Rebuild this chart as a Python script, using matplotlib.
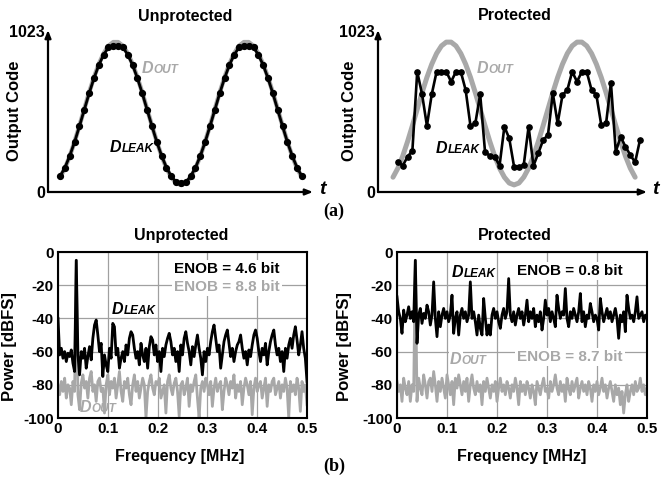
import numpy as np
import matplotlib
matplotlib.use('Agg')
import matplotlib.pyplot as plt
from matplotlib.text import Annotation

plt.rcParams['font.family'] = ['Liberation Sans', 'DejaVu Sans']
plt.rcParams['font.weight'] = 'bold'

# ---------------- data ----------------
sample_idx = list(range(51))
dout_wave = [94, 151, 228, 320, 421, 526, 631, 728, 812, 880, 928, 952, 952, 928, 880, 812, 728, 631, 526,
             421, 320, 228, 151, 94, 57, 45, 57, 94, 151, 228, 320, 421, 526, 631, 728, 812, 880, 928, 952,
             952, 928, 880, 812, 728, 631, 526, 421, 320, 228, 151, 94]
dleak_unprot = [100, 155, 230, 318, 418, 522, 626, 722, 806, 872, 918, 925, 925, 918, 872, 806, 722, 626, 522,
                418, 318, 230, 155, 100, 62, 55, 62, 100, 155, 230, 318, 418, 522, 626, 722, 806, 872, 918, 925,
                925, 918, 872, 806, 722, 626, 522, 418, 318, 230, 155, 100]
dleak_prot = [193, 167, 224, 262, 764, 621, 421, 621, 764, 764, 764, 701, 764, 764, 648, 419, 436, 621, 256,
              229, 224, 167, 415, 341, 161, 161, 172, 415, 167, 246, 330, 362, 627, 436, 616, 648, 764, 701,
              764, 764, 648, 616, 426, 436, 695, 256, 351, 288, 235, 189, 330]
prot_out_shift = -1  # DOUT curve of protected panel leads the leak samples by one sample

freq_max = 0.5
n_bins = 151

spec_leak_unprot = [-40, -62, -58, -64, -60, -66, -61, -63, -59, -67, -72, -5, -62, -74, -60, -64, -58, -70, -63, -57,
                    -65, -52, -44, -41, -50, -60, -55, -75, -62, -68, -72, -58, -64, -43, -45, -62, -58, -70, -64, -60,
                    -66, -56, -62, -52, -48, -50, -58, -64, -60, -68, -55, -62, -66, -58, -70, -57, -51, -53, -62, -56,
                    -66, -60, -72, -58, -63, -56, -52, -49, -54, -62, -58, -66, -60, -72, -56, -62, -52, -48, -55, -60,
                    -68, -57, -63, -56, -50, -58, -64, -74, -60, -66, -58, -62, -54, -48, -44, -52, -60, -56, -70, -62,
                    -54, -50, -47, -55, -63, -58, -66, -60, -56, -54, -50, -58, -64, -60, -68, -59, -63, -56, -50, -47,
                    -52, -60, -66, -58, -62, -55, -68, -60, -54, -50, -47, -56, -62, -58, -66, -60, -72, -58, -64, -56,
                    -52, -58, -50, -45, -53, -62, -56, -48, -58, -64, -78]
spec_out_unprot = [-80, -86, -78, -84, -76, -88, -80, -82, -92, -78, -84, -5, -86, -95, -79, -74, -82, -78, -88, -76,
                   -72, -84, -80, -90, -78, -76, -84, -82, -97, -80, -74, -86, -78, -82, -76, -88, -80, -72, -84, -90,
                   -78, -82, -76, -86, -92, -80, -74, -84, -78, -88, -82, -76, -80, -100, -84, -78, -74, -82, -86, -78,
                   -80, -76, -88, -84, -80, -97, -78, -74, -82, -86, -79, -76, -84, -99, -80, -78, -86, -82, -76, -93,
                   -80, -84, -78, -74, -88, -100, -82, -78, -84, -76, -80, -86, -78, -93, -82, -76, -84, -80, -78, -95,
                   -84, -76, -80, -86, -78, -82, -74, -88, -80, -84, -78, -92, -82, -76, -80, -86, -78, -98, -82, -76,
                   -84, -80, -78, -88, -82, -76, -93, -80, -84, -78, -76, -86, -82, -78, -88, -80, -84, -76, -82, -100,
                   -78, -84, -80, -86, -76, -82, -96, -78, -84, -80, -92]
spec_leak_prot = [-27, -36, -40, -49, -35, -42, -38, -33, -40, -36, -42, -5, -55, -38, -34, -43, -37, -40, -32, -36,
                  -44, -38, -18, -40, -51, -36, -45, -38, -34, -40, -36, -42, -38, -26, -49, -40, -36, -50, -38, -34,
                  -40, -36, -42, -38, -18, -40, -36, -42, -50, -38, -46, -50, -28, -40, -50, -44, -50, -38, -34, -40,
                  -36, -42, -46, -38, -34, -40, -36, -16, -38, -42, -36, -44, -38, -34, -40, -36, -44, -38, -29, -42,
                  -36, -40, -34, -45, -38, -42, -36, -47, -40, -29, -38, -34, -42, -36, -40, -45, -26, -34, -40, -36,
                  -38, -22, -40, -45, -36, -40, -34, -38, -42, -36, -25, -42, -36, -45, -38, -40, -31, -36, -42, -38,
                  -40, -47, -28, -36, -42, -38, -34, -40, -36, -42, -38, -34, -40, -52, -38, -42, -36, -48, -26, -34,
                  -40, -38, -42, -36, -27, -40, -38, -36, -42, -38, -40]
spec_out_prot = [-78, -84, -80, -90, -76, -82, -86, -78, -90, -80, -84, -5, -90, -76, -82, -86, -74, -80, -88, -78,
                 -76, -84, -72, -80, -90, -78, -84, -76, -82, -88, -74, -80, -86, -78, -92, -76, -82, -74, -80, -86,
                 -78, -84, -76, -90, -80, -74, -82, -86, -78, -84, -80, -92, -78, -84, -76, -82, -88, -80, -84, -78,
                 -90, -82, -76, -84, -80, -86, -78, -82, -88, -80, -84, -76, -82, -92, -78, -84, -80, -86, -78, -82,
                 -88, -80, -84, -92, -78, -82, -86, -80, -76, -84, -82, -88, -78, -84, -80, -74, -82, -86, -78, -84,
                 -80, -90, -76, -82, -86, -78, -84, -80, -76, -88, -82, -78, -84, -80, -86, -78, -82, -90, -80, -84,
                 -78, -86, -82, -76, -84, -80, -88, -82, -78, -84, -90, -80, -86, -82, -92, -84, -97, -86, -80, -90,
                 -84, -80, -86, -78, -84, -82, -76, -84, -80, -86, -82]

titles = ['Unprotected', 'Protected']
enob_leak = ['ENOB = 4.6 bit', 'ENOB = 0.8 bit']
enob_out = ['ENOB = 8.8 bit', 'ENOB = 8.7 bit']
freq_ticks = [0, 0.1, 0.2, 0.3, 0.4, 0.5]
freq_ticklabels = ['0', '0.1', '0.2', '0.3', '0.4', '0.5']
db_ticks = [0, -20, -40, -60, -80, -100]
code_ticks = [0, 1023]

# ---------------- style ----------------
W, H = 669, 479
GRAY = '#a8a8a8'
fig = plt.figure(figsize=(W / 100, H / 100), dpi=100)


def fx(px):
    return px / W


def fy(py):
    return 1 - py / H


def dlabel(x, y, sub, color, ms=11.5, ss=8.5, bbox=False):
    kw = {}
    if bbox:
        kw = dict(bbox=dict(facecolor='white', edgecolor='none', pad=1.0))
    t = fig.text(fx(x), fy(y), 'D', fontsize=ms, fontweight='bold', style='italic',
                 color=color, ha='left', va='baseline', zorder=5, **kw)
    a = Annotation(sub, xy=(1, 0), xycoords=t, xytext=(0.3, 0), textcoords='offset points',
                   fontsize=ss, fontweight='bold', style='italic', color=color,
                   ha='left', va='bottom', annotation_clip=False, zorder=6)
    fig.add_artist(a)
    return t


# ---------------- (a) time domain ----------------
ax1 = fig.add_axes([fx(48), fy(192), fx(313 - 48), (192 - 30) / H])
ax2 = fig.add_axes([fx(378), fy(192), fx(647 - 378), (192 - 30) / H])

n = np.array(sample_idx)
ax1.plot(n, dout_wave, color=GRAY, lw=3.2, solid_capstyle='round', zorder=2)
ax1.plot(n, dleak_unprot, color='black', lw=2.0, marker='o', ms=4.2, zorder=3)
ax1.set_xlim(-2.5, 52.3)

ax2.plot(n + prot_out_shift, dout_wave, color=GRAY, lw=3.6, solid_capstyle='round', zorder=2)
ax2.plot(n, dleak_prot, color='black', lw=1.9, marker='o', ms=3.8, zorder=3)
ax2.set_xlim(-4.1, 51.45)

for ax, tx in ((ax1, 322), (ax2, 655)):
    ax.set_ylim(0, 1029)
    for s in ax.spines.values():
        s.set_visible(False)
    ax.set_xticks([])
    ax.set_yticks(code_ticks)
    ax.set_yticklabels([str(v) for v in code_ticks], fontsize=11.5, fontweight='bold')
    ax.tick_params(axis='y', length=0, pad=2)
    ax.patch.set_alpha(0)
    arrow = dict(arrowstyle='-|>,head_length=0.45,head_width=0.18', lw=1.6, color='black',
                 shrinkA=0, shrinkB=0)
    ax.annotate('', xy=(1, 0), xytext=(0, 0), xycoords='axes fraction', arrowprops=arrow)
    ax.annotate('', xy=(0, 1), xytext=(0, 0), xycoords='axes fraction', arrowprops=arrow)
    ax.set_ylabel('Output Code', fontsize=12, fontweight='bold')
    fig.text(fx(tx), fy(190), 't', fontsize=14, fontweight='bold', style='italic',
             ha='center', va='center')

ax1.yaxis.set_label_coords(-0.098, 0.5)
ax2.yaxis.set_label_coords(-0.078, 0.5)

fig.text(fx(185), fy(16), titles[0], fontsize=11.5, fontweight='bold', ha='center', va='center')
fig.text(fx(515), fy(16), titles[1], fontsize=11.5, fontweight='bold', ha='center', va='center')

dlabel(142, 73, 'OUT', GRAY)
dlabel(110, 152, 'LEAK', 'black')
dlabel(477, 73, 'OUT', GRAY)
dlabel(436, 153, 'LEAK', 'black')

fig.text(fx(334), fy(211), '(a)', fontsize=13, fontweight='bold', family='Liberation Serif',
         ha='center', va='center')

# ---------------- (b) spectra ----------------
ax3 = fig.add_axes([fx(58), fy(418), fx(249), 166 / H])
ax4 = fig.add_axes([fx(397), fy(418), fx(250), 166 / H])
freq = np.linspace(0, freq_max, n_bins)

ax3.plot(freq, spec_out_unprot, color=GRAY, lw=2.0, zorder=2)
ax3.plot(freq, spec_leak_unprot, color='black', lw=2.0, zorder=3)
ax4.plot(freq, spec_out_prot, color=GRAY, lw=2.0, zorder=2)
ax4.plot(freq, spec_leak_prot, color='black', lw=2.0, zorder=3)

for ax in (ax3, ax4):
    ax.set_xlim(0, 0.5)
    ax.set_ylim(-100, 0)
    ax.set_xticks(freq_ticks)
    ax.set_xticklabels(freq_ticklabels, fontsize=11, fontweight='bold')
    ax.set_yticks(db_ticks)
    ax.set_yticklabels([str(v) for v in db_ticks], fontsize=11, fontweight='bold')
    ax.tick_params(length=0, pad=3)
    ax.grid(True, color='#a0a0a0', lw=0.9)
    ax.set_axisbelow(True)
    for s in ax.spines.values():
        s.set_linewidth(1.5)
    ax.set_xlabel('Frequency [MHz]', fontsize=11.5, fontweight='bold')
    ax.set_ylabel('Power [dBFS]', fontsize=12, fontweight='bold')

ax3.xaxis.set_label_coords(0.49, -0.187)
ax4.xaxis.set_label_coords(0.5, -0.187)
ax3.yaxis.set_label_coords(-0.165, 0.43)
ax4.yaxis.set_label_coords(-0.18, 0.43)

fig.text(fx(181), fy(235), titles[0], fontsize=11.5, fontweight='bold', ha='center', va='center')
fig.text(fx(515), fy(235), titles[1], fontsize=11.5, fontweight='bold', ha='center', va='center')

bb = dict(facecolor='white', edgecolor='none', pad=1.5)
fig.text(fx(227), fy(269), enob_leak[0], fontsize=11, fontweight='bold', color='black',
         ha='center', va='center', bbox=bb, zorder=5)
fig.text(fx(227), fy(287), enob_out[0], fontsize=11, fontweight='bold', color=GRAY,
         ha='center', va='center', bbox=bb, zorder=5)
fig.text(fx(570), fy(271), enob_leak[1], fontsize=11, fontweight='bold', color='black',
         ha='center', va='center', bbox=bb, zorder=5)
fig.text(fx(570), fy(357), enob_out[1], fontsize=11, fontweight='bold', color=GRAY,
         ha='center', va='center', bbox=bb, zorder=5)

dlabel(112, 314, 'LEAK', 'black')
dlabel(80, 412, 'OUT', GRAY)
dlabel(452, 277, 'LEAK', 'black')
dlabel(450, 364, 'OUT', GRAY, bbox=True)

fig.text(fx(334), fy(466), '(b)', fontsize=13, fontweight='bold', family='Liberation Serif',
         ha='center', va='center')

fig.savefig('out.png', dpi=100)
